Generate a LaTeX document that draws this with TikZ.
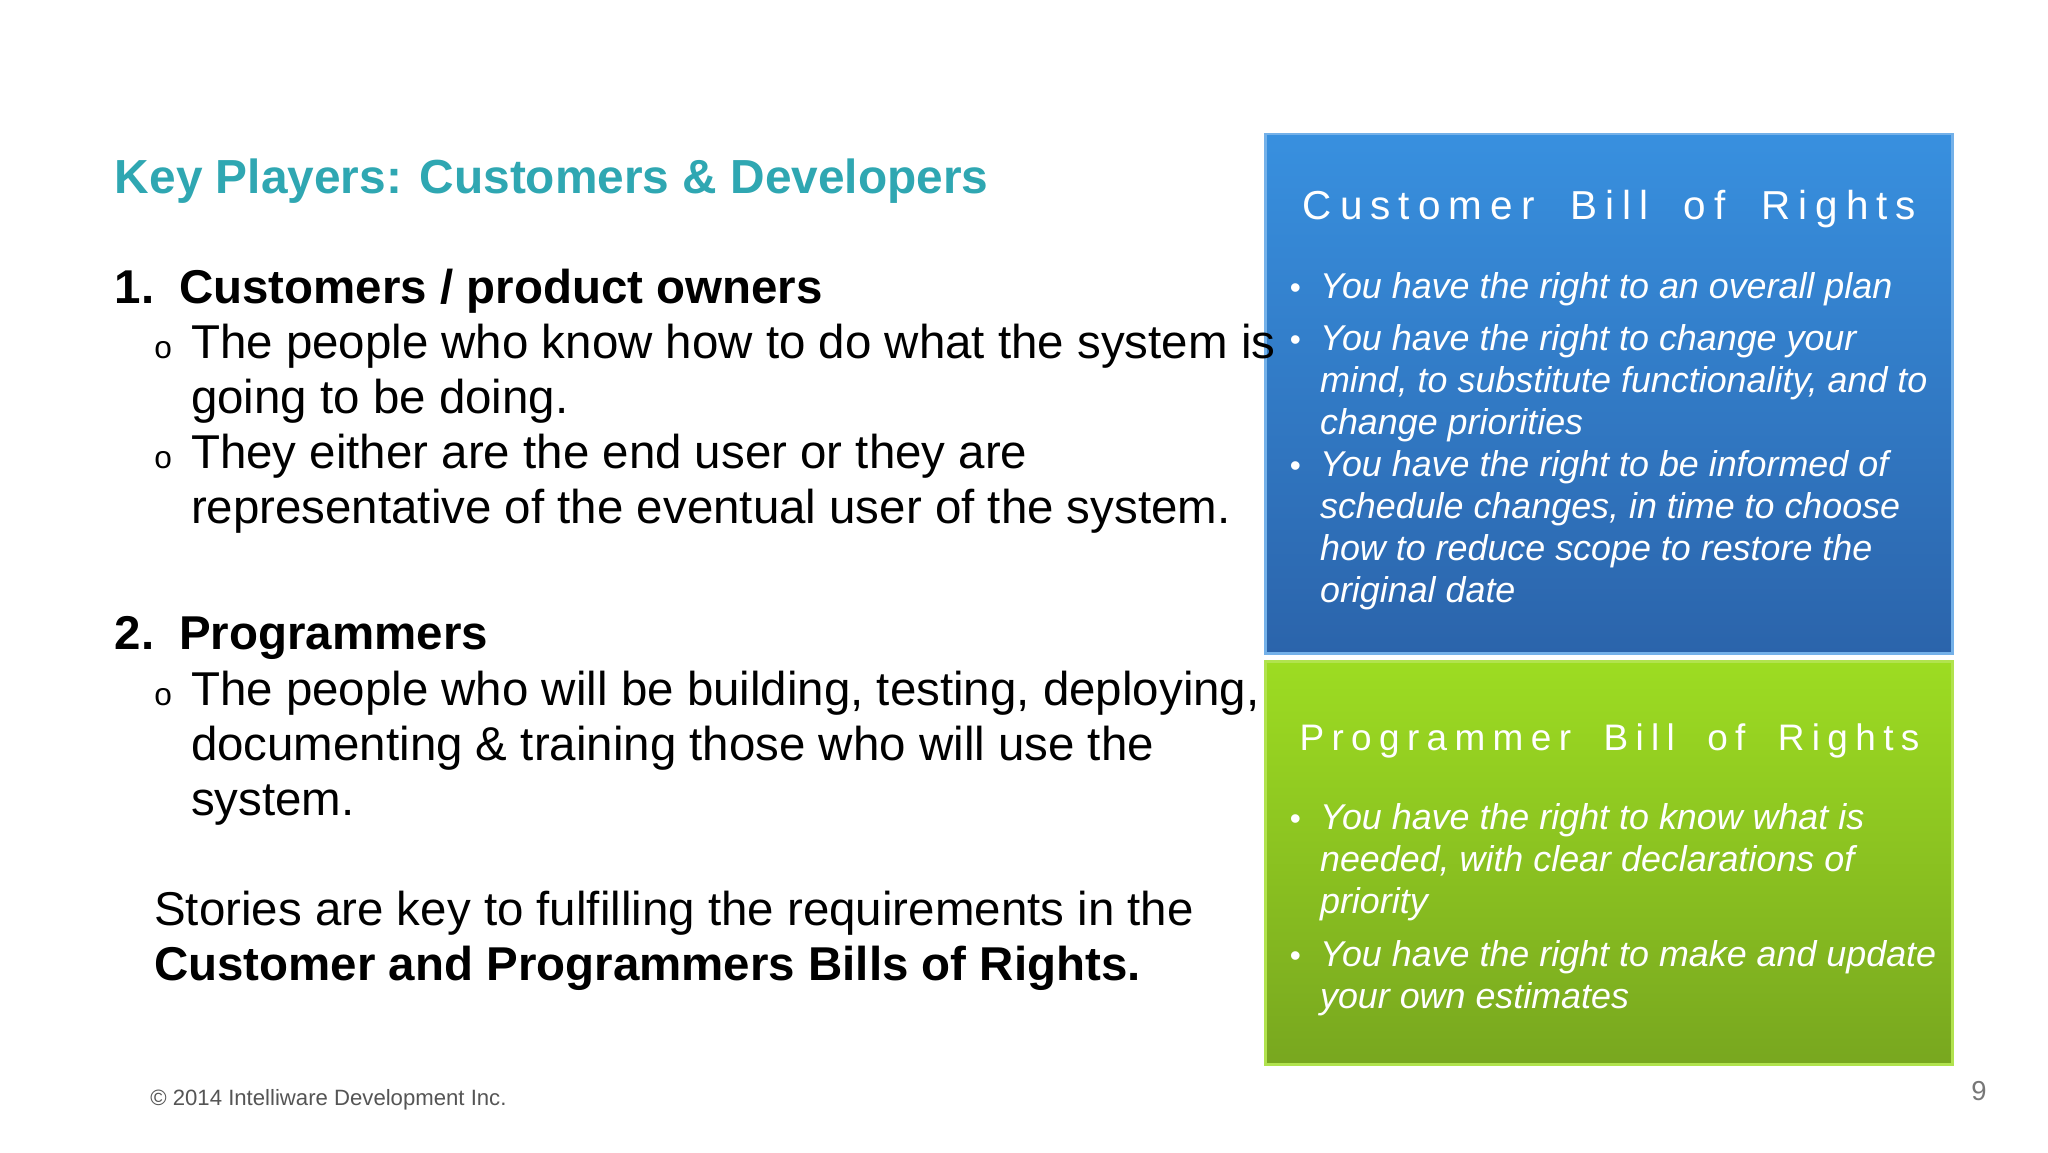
\documentclass[tikz,border=0pt]{standalone}
\usepackage{fontspec}
\setmainfont{Liberation Sans}
\newfontfamily\spaced[LetterSpace=20]{Liberation Sans}
\definecolor{teal}{HTML}{2FA7B2}
\definecolor{bluetop}{HTML}{3890DF}
\definecolor{bluebot}{HTML}{2B64AB}
\definecolor{greentop}{HTML}{9DDC22}
\definecolor{greenbot}{HTML}{78A71F}
\definecolor{foot}{HTML}{555555}
\begin{document}
\begin{tikzpicture}[x=0.013128cm,y=-0.013128cm,
  body/.style={anchor=base west,inner sep=0pt,font=\fontsize{13.5}{16}\selectfont,text=black},
  bwhite/.style={anchor=base west,inner sep=0pt,font=\fontsize{10.2}{12}\selectfont\itshape,text=white},
  btitle/.style={anchor=base,inner sep=0pt,font=\fontsize{11.5}{14}\spaced,text=white},
  obul/.style={anchor=base west,inner sep=0pt,font=\fontsize{9}{10}\selectfont},
  dot/.style={anchor=base west,inner sep=0pt,font=\fontsize{9}{10}\selectfont,text=white}]
\useasboundingbox (0,0) rectangle (1560,877.5);
\fill[white] (0,0) rectangle (1560,877.5);
% boxes
\shade[top color=bluetop,bottom color=bluebot] (964,102) rectangle (1487,498);
\draw[color=bluetop!70!white,line width=0.8pt] (964,102) rectangle (1487,498);
\shade[top color=greentop,bottom color=greenbot] (964,504) rectangle (1487,811);
\draw[color=greentop!80!white,line width=0.8pt] (964,504) rectangle (1487,811);
% left text
\node[body,text=teal,font=\fontsize{13.6}{16}\selectfont\bfseries] (t) at (87,147) {Key Players: Customers \& Developers};
\node[body,font=\fontsize{13.5}{16}\selectfont\bfseries] (n1) at (87,231) {1.};
\node[body,font=\fontsize{13.5}{16}\selectfont\bfseries] (h1) at (136,231) {Customers / product owners};
\node[obul] (o1) at (117,273) {o};
\node[body] (l1) at (145,273) {The people who know how to do what the system is};
\node[body] (l2) at (145,315) {going to be doing.};
\node[obul] (o2) at (117,357) {o};
\node[body] (l3) at (145,357) {They either are the end user or they are};
\node[body] (l4) at (145,399) {representative of the eventual user of the system.};
\node[body,font=\fontsize{13.5}{16}\selectfont\bfseries] (n2) at (87,495) {2.};
\node[body,font=\fontsize{13.5}{16}\selectfont\bfseries] (h2) at (136,495) {Programmers};
\node[obul] (o3) at (117,537) {o};
\node[body] (l5) at (145,537) {The people who will be building, testing, deploying,};
\node[body] (l6) at (145,579) {documenting \& training those who will use the};
\node[body] (l7) at (145,621) {system.};
\node[body] (s1) at (117,705) {Stories are key to fulfilling the requirements in the};
\node[body,font=\fontsize{13.5}{16}\selectfont\bfseries] (s2) at (117,747) {Customer and Programmers Bills of Rights.};
\node[body,text=foot,font=\fontsize{6.3}{8}\selectfont] (f) at (114,842) {© 2014 Intelliware Development Inc.};
\node[body,text=foot!80,font=\fontsize{7.8}{9}\selectfont] (pg) at (1501,838) {9};
% blue box text
\node[btitle] (ct) at (1226,167) {Customer\hspace{0.4em} Bill\hspace{0.4em} of\hspace{0.4em} Rights};
\node[dot] (d1) at (982,227) {•};
\node[bwhite] (c1) at (1005,227) {You have the right to an overall plan};
\node[dot] (d2) at (982,267) {•};
\node[bwhite] (c2) at (1005,267) {You have the right to change your};
\node[bwhite] (c3) at (1005,299) {mind, to substitute functionality, and to};
\node[bwhite] (c4) at (1005,331) {change priorities};
\node[dot] (d3) at (982,363) {•};
\node[bwhite] (c5) at (1005,363) {You have the right to be informed of};
\node[bwhite] (c6) at (1005,395) {schedule changes, in time to choose};
\node[bwhite] (c7) at (1005,427) {how to reduce scope to restore the};
\node[bwhite] (c8) at (1005,459) {original date};
% green box text
\node[btitle,font=\fontsize{10.5}{13}\spaced] (pt) at (1226,572) {Programmer\hspace{0.4em} Bill\hspace{0.4em} of\hspace{0.4em} Rights};
\node[dot] (d4) at (982,632) {•};
\node[bwhite] (p1) at (1005,632) {You have the right to know what is};
\node[bwhite] (p2) at (1005,664) {needed, with clear declarations of};
\node[bwhite] (p3) at (1005,696) {priority};
\node[dot] (d5) at (982,736) {•};
\node[bwhite] (p4) at (1005,736) {You have the right to make and update};
\node[bwhite] (p5) at (1005,768) {your own estimates};
\end{tikzpicture}
\end{document}
